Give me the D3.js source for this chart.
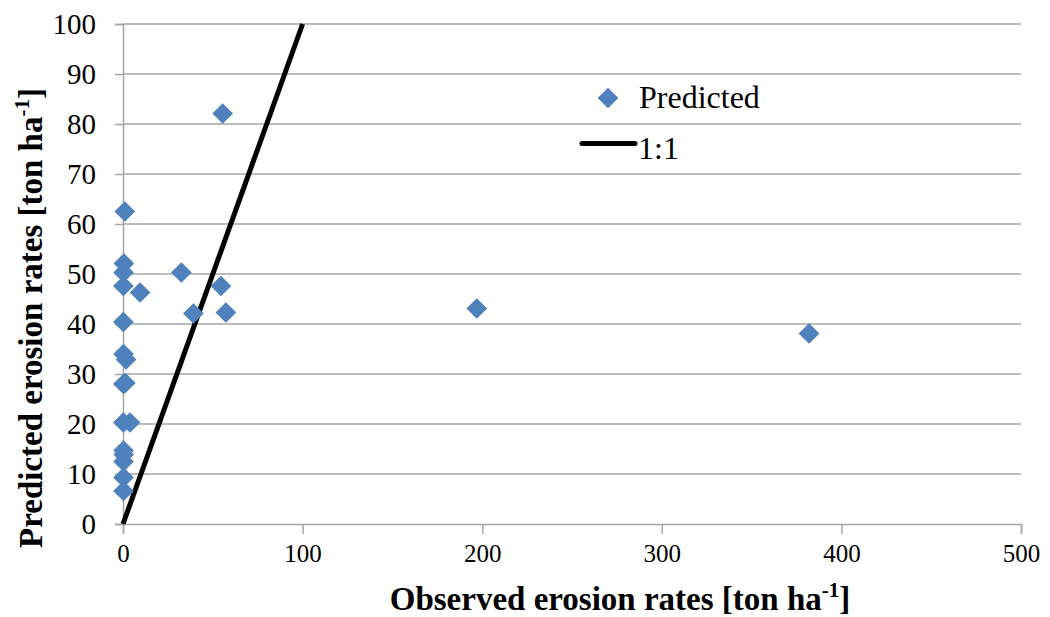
<!DOCTYPE html>
<html><head><meta charset="utf-8">
<script src="https://cdn.jsdelivr.net/npm/d3@7"></script>
<style>body{margin:0;background:#fff} svg text{font-family:"Liberation Serif","Times New Roman",serif !important;}</style>
</head><body>
<svg id="c" width="1050" height="617"></svg>
<script>
const observed = [1, 0.5, 0.3, 0.2, 9.5, 32.5, 54.5, 39.2, 57.3, 0.2, 0.3, 1.7, 0.2, 1.3, 0.2, 3.9, 0.3, 0.4, 0.3, 0.3, 0.3, 55.5, 197, 382];
const predicted = [62.5, 52.1, 50.3, 47.6, 46.3, 50.3, 47.6, 42.1, 42.3, 40.4, 34, 32.9, 28, 28.2, 20.3, 20.3, 14.7, 13.9, 12.5, 9.3, 6.6, 82.1, 43.1, 38.1];
const oneToOne = [[0, 0], [100, 100]];
const xTicks = [0, 100, 200, 300, 400, 500];
const yTicks = [0, 10, 20, 30, 40, 50, 60, 70, 80, 90, 100];

const svg = d3.select("#c");
const x = d3.scaleLinear().domain([0, 500]).range([123, 1021]);
const y = d3.scaleLinear().domain([0, 100]).range([524, 24]);

// gridlines
svg.append("g").selectAll("line").data(yTicks.filter(d => d > 0)).join("line")
  .attr("x1", x(0)).attr("x2", x(500)).attr("y1", d => y(d)).attr("y2", d => y(d))
  .attr("stroke", "#a6a6a6").attr("stroke-width", 1.5);

// axes
const xa = svg.append("g").attr("transform", `translate(0,${y(0)})`)
  .call(d3.axisBottom(x).tickValues(xTicks).tickSize(10).tickPadding(10));
const ya = svg.append("g").attr("transform", `translate(${x(0)},0)`)
  .call(d3.axisLeft(y).tickValues(yTicks).tickSize(8).tickPadding(19));
[xa, ya].forEach(a => {
  a.select(".domain").attr("stroke", "#a6a6a6").attr("stroke-width", 1.5);
  a.selectAll(".tick line").attr("stroke", "#a6a6a6").attr("stroke-width", 1.5);
  a.selectAll(".tick text").attr("fill", "#000");
});
xa.selectAll(".tick text").attr("font-size", 25);
ya.selectAll(".tick text").attr("font-size", 29).attr("dy", "0.32em");

// 1:1 line
svg.append("path").datum(oneToOne)
  .attr("d", d3.line().x(d => x(d[0])).y(d => y(d[1])))
  .attr("stroke", "#000").attr("stroke-width", 5).attr("fill", "none");

// points
const sym = d3.symbol().type(d3.symbolSquare).size(215);
svg.append("g").selectAll("path").data(observed.map((o, i) => [o, predicted[i]])).join("path")
  .attr("d", sym)
  .attr("transform", d => `translate(${x(d[0])},${y(d[1])}) rotate(45)`)
  .attr("fill", "#4f81bd");

// legend
svg.append("path").attr("d", sym).attr("transform", "translate(608,98) rotate(45)").attr("fill", "#4f81bd");
svg.append("text").attr("x", 639).attr("y", 108).text("Predicted").attr("font-size", 32);
svg.append("line").attr("x1", 582).attr("x2", 635).attr("y1", 143.5).attr("y2", 143.5)
  .attr("stroke", "#000").attr("stroke-width", 5).attr("stroke-linecap", "round");
svg.append("text").attr("x", 638).attr("y", 159).text("1:1").attr("font-size", 32);

// axis titles
const xt = svg.append("text").attr("x", 620).attr("y", 610).attr("text-anchor", "middle")
  .attr("font-size", 33).attr("font-weight", "bold");
xt.append("tspan").text("Observed erosion rates [ton ha");
xt.append("tspan").text("-1").attr("font-size", 21).attr("dy", -13);
xt.append("tspan").text("]").attr("dy", 13);

const yt = svg.append("text").attr("transform", "translate(42,318) rotate(-90)").attr("text-anchor", "middle")
  .attr("font-size", 33).attr("font-weight", "bold");
yt.append("tspan").text("Predicted erosion rates [ton ha");
yt.append("tspan").text("-1").attr("font-size", 21).attr("dy", -13);
yt.append("tspan").text("]").attr("dy", 13);
</script>
</body></html>
